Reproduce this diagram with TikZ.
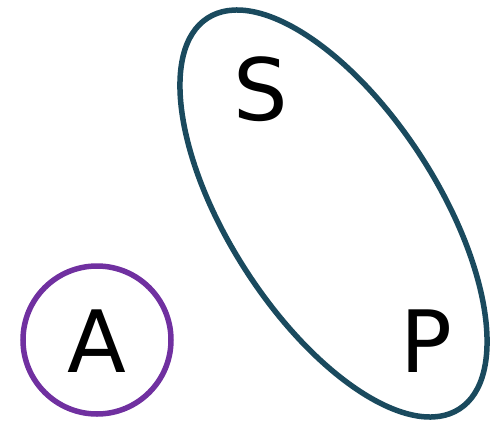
\documentclass[tikz,border=0pt]{standalone}
\usepackage{fontspec}
\setmainfont{DejaVu Sans}
\definecolor{setpurple}{RGB}{112,48,160}
\definecolor{setteal}{RGB}{26,74,94}
\begin{document}
\begin{tikzpicture}[x=1pt,y=1pt,
  lbl/.style={font=\fontsize{86}{90}\selectfont, inner sep=0pt, anchor=base},
  setline/.style={line width=5.5pt}]
\useasboundingbox (0,0) rectangle (497,432);
\draw[setline, setpurple] (97,92) circle (74);
\draw[setline, setteal] (333.5,218.5) ellipse [x radius=232.5, y radius=104.5, rotate=-57.2];
\node[lbl] (A) at (97,60) {A};
\node[lbl] (S) at (261,312) {S};
\node[lbl] (P) at (426,60) {P};
\end{tikzpicture}
\end{document}
